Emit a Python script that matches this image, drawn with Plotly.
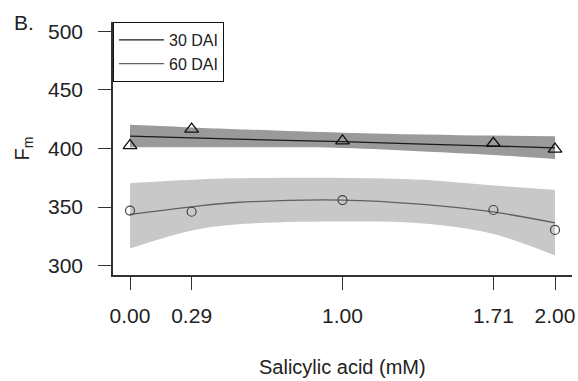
import plotly.graph_objects as go

# Salicylic acid concentrations (mM) and observed Fm means
sa_mM = [0.00, 0.29, 1.00, 1.71, 2.00]
sa_labels = ["0.00", "0.29", "1.00", "1.71", "2.00"]
fm_30dai = [402.5, 416.5, 406.5, 404.5, 399.5]
fm_60dai = [347.0, 346.0, 356.0, 347.5, 330.5]

# Fitted trends with confidence bands, sampled along the concentration axis
x_fit = [0.00, 0.29, 0.50, 1.00, 1.38, 1.71, 2.00]
fit_30dai = [410.5, 409.1, 408.0, 405.8, 403.8, 402.1, 400.6]
hi_30dai = [420.2, 418.0, 416.5, 413.5, 412.0, 411.0, 410.5]
lo_30dai = [401.0, 401.0, 401.0, 400.5, 397.5, 394.5, 391.0]
fit_60dai = [343.8, 350.2, 353.9, 356.0, 352.3, 345.8, 336.5]
hi_60dai = [370.4, 373.3, 374.5, 374.9, 373.3, 368.5, 364.7]
lo_60dai = [314.6, 330.0, 335.2, 337.6, 336.0, 327.0, 308.7]

y_ticks = [300, 350, 400, 450, 500]

FONT = "Liberation Sans, Arial, sans-serif"

fig = go.Figure()


def add_band(lo, hi, color):
    fig.add_trace(go.Scatter(x=x_fit, y=lo, mode="lines",
                             line=dict(width=0, shape="spline"),
                             showlegend=False, hoverinfo="skip"))
    fig.add_trace(go.Scatter(x=x_fit, y=hi, mode="lines",
                             line=dict(width=0, shape="spline"),
                             fill="tonexty", fillcolor=color,
                             showlegend=False, hoverinfo="skip"))


add_band(lo_30dai, hi_30dai, "#9a9a9a")
add_band(lo_60dai, hi_60dai, "#c8c8c8")

fig.add_trace(go.Scatter(x=x_fit, y=fit_30dai, mode="lines", name="30 DAI",
                         line=dict(color="#1a1a1a", width=1.3, shape="spline")))
fig.add_trace(go.Scatter(x=x_fit, y=fit_60dai, mode="lines", name="60 DAI",
                         line=dict(color="#606060", width=1.3, shape="spline")))

fig.add_trace(go.Scatter(x=sa_mM, y=fm_30dai, mode="markers", showlegend=False,
                         marker=dict(symbol="triangle-up-open", size=12,
                                     color="#111111", line=dict(width=1.3))))
fig.add_trace(go.Scatter(x=sa_mM, y=fm_60dai, mode="markers", showlegend=False,
                         marker=dict(symbol="circle-open", size=9,
                                     color="#444444", line=dict(width=1.2))))

fig.update_layout(
    width=578, height=381,
    margin=dict(l=113, r=6, t=22, b=106),
    paper_bgcolor="white", plot_bgcolor="white",
    font=dict(family=FONT, color="#222222"),
    showlegend=True,
    legend=dict(x=0, y=1, xanchor="left", yanchor="top", traceorder="normal",
                bordercolor="#111111", borderwidth=1, bgcolor="white",
                font=dict(size=16, family=FONT), itemwidth=45,
                entrywidth=110, entrywidthmode="pixels",
                tracegroupgap=0),
    xaxis=dict(range=[-0.08, 2.08], tickvals=sa_mM, ticktext=sa_labels,
               automargin=False,
               showgrid=False, zeroline=False,
               showline=True, linecolor="#333333", linewidth=1.5,
               ticks="outside", ticklen=13, tickwidth=1.2, tickcolor="#333333",
               ticklabelstandoff=8,
               tickfont=dict(size=21, family=FONT)),
    yaxis=dict(range=[292, 508], tickvals=y_ticks,
               automargin=False,
               showgrid=False, zeroline=False,
               showline=True, linecolor="#333333", linewidth=1.5,
               ticks="outside", ticklen=13, tickwidth=1.2, tickcolor="#333333",
               ticklabelstandoff=11,
               tickfont=dict(size=21, family=FONT)),
    annotations=[
        dict(text="B.", xref="paper", yref="paper",
             x=-0.22, y=1.0, xanchor="left", yanchor="middle",
             showarrow=False, font=dict(size=21, family=FONT)),
        dict(text="Salicylic acid (mM)", xref="paper", yref="paper",
             x=0.5, y=-0.364, xanchor="center", yanchor="middle",
             showarrow=False, font=dict(size=20, family=FONT)),
        dict(text="F<sub>m</sub>", xref="paper", yref="paper",
             x=-0.196, y=0.5, xanchor="center", yanchor="middle",
             textangle=-90, showarrow=False, font=dict(size=20, family=FONT)),
    ],
)

fig.write_html("out.html")
